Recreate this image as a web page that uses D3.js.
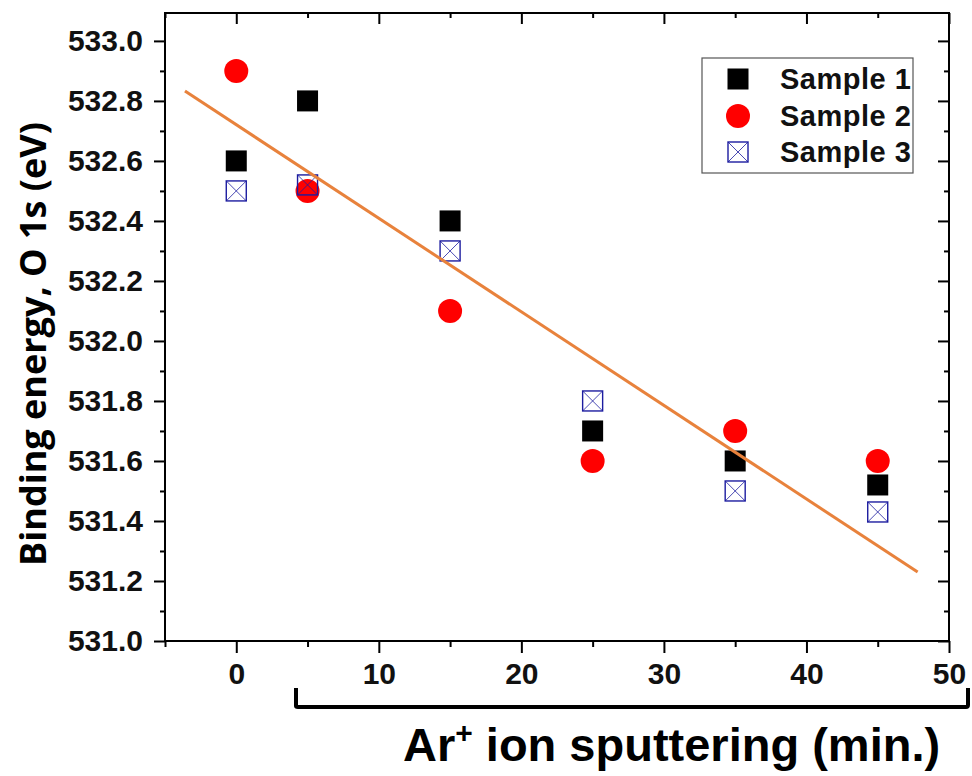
<!DOCTYPE html>
<html><head><meta charset="utf-8">
<script src="https://cdn.jsdelivr.net/npm/d3@7"></script>
<style>
html,body{margin:0;padding:0;background:#fff;}
svg{display:block;}
</style>
</head><body>
<svg id="chart" width="972" height="776"></svg>
<script>
// ---- data ----
const sputterTimes = [0, 5, 15, 25, 35, 45];
const sample1 = [532.6, 532.8, 532.4, 531.7, 531.6, 531.52];
const sample2 = [532.9, 532.5, 532.1, 531.6, 531.7, 531.6];
const sample3 = [532.5, 532.52, 532.3, 531.8, 531.5, 531.43];
const fitX = [-3.6, 47.8];
const fitY = [532.833, 531.23];
const xTicks = [0, 10, 20, 30, 40, 50];
const xMinorTicks = [-5, 5, 15, 25, 35, 45];
const yTicks = [531.0, 531.2, 531.4, 531.6, 531.8, 532.0, 532.2, 532.4, 532.6, 532.8, 533.0];
const yMinorTicks = [531.1, 531.3, 531.5, 531.7, 531.9, 532.1, 532.3, 532.5, 532.7, 532.9];
const seriesNames = ["Sample 1", "Sample 2", "Sample 3"];

// ---- layout ----
const svg = d3.select("#chart");
const L = 165, R = 949, T = 13, B = 641;
const x = d3.scaleLinear().domain([-5, 50]).range([L, R]);
const y = d3.scaleLinear().domain([531.0, 533.093]).range([B, T]);
const tickFont = "'Liberation Sans', Arial, sans-serif";

function styleAxis(g) {
  g.selectAll(".domain").remove();
  g.selectAll(".tick line").attr("stroke", "#000").attr("stroke-width", 2);
  g.selectAll(".tick text").attr("font-family", tickFont).attr("font-weight", "bold")
    .attr("font-size", 30).attr("fill", "#111");
}

// bottom axis (outward ticks)
svg.append("g").attr("transform", `translate(0,${B})`)
  .call(d3.axisBottom(x).tickValues(xTicks).tickSize(12).tickPadding(10).tickFormat(d3.format("d")))
  .call(styleAxis);
svg.append("g").attr("transform", `translate(0,${B})`)
  .call(d3.axisBottom(x).tickValues(xMinorTicks).tickSize(6).tickFormat(""))
  .call(styleAxis);
// top axis (inward ticks)
svg.append("g").attr("transform", `translate(0,${T})`)
  .call(d3.axisBottom(x).tickValues(xTicks).tickSize(11).tickFormat(""))
  .call(styleAxis);
svg.append("g").attr("transform", `translate(0,${T})`)
  .call(d3.axisBottom(x).tickValues(xMinorTicks).tickSize(5).tickFormat(""))
  .call(styleAxis);
// left axis (outward)
svg.append("g").attr("transform", `translate(${L},0)`)
  .call(d3.axisLeft(y).tickValues(yTicks).tickSize(11).tickPadding(11).tickFormat(d3.format(".1f")))
  .call(styleAxis);
svg.append("g").attr("transform", `translate(${L},0)`)
  .call(d3.axisLeft(y).tickValues(yMinorTicks).tickSize(5).tickFormat(""))
  .call(styleAxis);
// right axis (inward)
svg.append("g").attr("transform", `translate(${R},0)`)
  .call(d3.axisLeft(y).tickValues(yTicks).tickSize(11).tickFormat(""))
  .call(styleAxis);
svg.append("g").attr("transform", `translate(${R},0)`)
  .call(d3.axisLeft(y).tickValues(yMinorTicks).tickSize(5).tickFormat(""))
  .call(styleAxis);

// frame
svg.append("rect").attr("x", L).attr("y", T).attr("width", R - L).attr("height", B - T)
  .attr("fill", "none").attr("stroke", "#000").attr("stroke-width", 2);

// markers
const blue = "#1c1ca0";
function drawSquare(g, cx, cy) {
  g.append("rect").attr("x", cx - 10.5).attr("y", cy - 10.5).attr("width", 21).attr("height", 21)
    .attr("fill", "#000");
}
function drawCircle(g, cx, cy) {
  g.append("circle").attr("cx", cx).attr("cy", cy).attr("r", 12).attr("fill", "#ff0000");
}
function drawXBox(g, cx, cy) {
  const h = 10;
  g.append("rect").attr("x", cx - h).attr("y", cy - h).attr("width", 2 * h).attr("height", 2 * h)
    .attr("fill", "none").attr("stroke", blue).attr("stroke-width", 1.4);
  g.append("line").attr("x1", cx - h).attr("y1", cy - h).attr("x2", cx + h).attr("y2", cy + h)
    .attr("stroke", blue).attr("stroke-width", 0.8);
  g.append("line").attr("x1", cx - h).attr("y1", cy + h).attr("x2", cx + h).attr("y2", cy - h)
    .attr("stroke", blue).attr("stroke-width", 0.8);
}
const gm = svg.append("g");
sputterTimes.forEach((t, i) => drawSquare(gm, x(t), y(sample1[i])));
sputterTimes.forEach((t, i) => drawCircle(gm, x(t), y(sample2[i])));
sputterTimes.forEach((t, i) => drawXBox(gm, x(t), y(sample3[i])));

// fit line
svg.append("path")
  .datum(fitX.map((v, i) => [v, fitY[i]]))
  .attr("d", d3.line().x(d => x(d[0])).y(d => y(d[1])))
  .attr("stroke", "#e8823c").attr("stroke-width", 3).attr("fill", "none");

// legend
const lg = svg.append("g");
lg.append("rect").attr("x", 702).attr("y", 58).attr("width", 211).attr("height", 115)
  .attr("fill", "#fff").attr("stroke", "#555").attr("stroke-width", 1.2);
const legY = [79, 116, 152];
const drawers = [drawSquare, drawCircle, drawXBox];
seriesNames.forEach((n, i) => {
  drawers[i](lg, 738, legY[i]);
  lg.append("text").attr("x", 780).attr("y", legY[i]).attr("dy", "0.36em")
    .attr("font-family", tickFont).attr("font-weight", "bold").attr("font-size", 29)
    .attr("letter-spacing", 0.5).attr("fill", "#111").text(n);
});

// y title
svg.append("text")
  .attr("transform", `translate(46,${344}) rotate(-90)`)
  .attr("text-anchor", "middle")
  .attr("font-family", "'Open Sans', 'Noto Sans', sans-serif").attr("font-weight", "bold")
  .attr("font-size", 36).attr("fill", "#000")
  .text("Binding energy, O 1s (eV)");

// bracket
svg.append("path").attr("d", "M296,688 V706 Q296,707 298,707 H966 Q968,707 968,705 V688")
  .attr("fill", "none").attr("stroke", "#000").attr("stroke-width", 4);

// x title
const xt = svg.append("text").attr("x", 403).attr("y", 761)
  .attr("font-family", tickFont).attr("font-weight", "bold").attr("font-size", 47).attr("fill", "#000");
xt.append("tspan").text("Ar");
xt.append("tspan").attr("font-size", 30).attr("dy", -18).text("+");
xt.append("tspan").attr("dy", 18).text(" ion sputtering (min.)");
</script>
</body></html>
